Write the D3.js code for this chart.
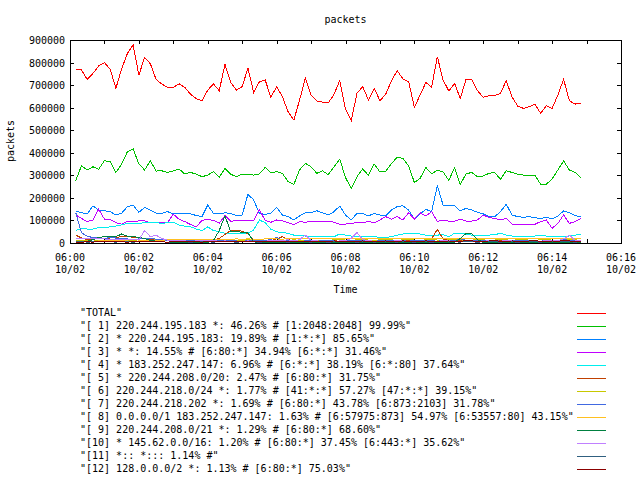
<!DOCTYPE html>
<html><head><meta charset="utf-8">
<script src="https://cdn.jsdelivr.net/npm/d3@7"></script>
<style>
body{margin:0;background:#fff;}
svg{display:block;background:#fff;}
text{font-family:"DejaVu Sans Mono",monospace;font-size:10px;fill:#000;white-space:pre;}
</style></head><body>
<svg id="c" width="640" height="480"></svg>
<script>
const chartTitle = "packets";
const yTitle = "packets";
const xTitle = "Time";
const dateLabel = "10/02";
const xDomain = ["06:00:00", "06:16:00"];
const yTicks = [0,100000,200000,300000,400000,500000,600000,700000,800000,900000];
const times = [
"06:00:10","06:00:20","06:00:30","06:00:40","06:00:50","06:01:00","06:01:10","06:01:20","06:01:30","06:01:40",
"06:01:50","06:02:00","06:02:10","06:02:20","06:02:30","06:02:40","06:02:50","06:03:00","06:03:10","06:03:20",
"06:03:30","06:03:40","06:03:50","06:04:00","06:04:10","06:04:20","06:04:30","06:04:40","06:04:50","06:05:00",
"06:05:10","06:05:20","06:05:30","06:05:40","06:05:50","06:06:00","06:06:10","06:06:20","06:06:30","06:06:40",
"06:06:50","06:07:00","06:07:10","06:07:20","06:07:30","06:07:40","06:07:50","06:08:00","06:08:10","06:08:20",
"06:08:30","06:08:40","06:08:50","06:09:00","06:09:10","06:09:20","06:09:30","06:09:40","06:09:50","06:10:00",
"06:10:10","06:10:20","06:10:30","06:10:40","06:10:50","06:11:00","06:11:10","06:11:20","06:11:30","06:11:40",
"06:11:50","06:12:00","06:12:10","06:12:20","06:12:30","06:12:40","06:12:50","06:13:00","06:13:10","06:13:20",
"06:13:30","06:13:40","06:13:50","06:14:00","06:14:10","06:14:20","06:14:30","06:14:40","06:14:50"];

// values in thousands of packets
const total = [767,767,725,752,785,800,770,686,772,840, 878,744,823,795,725,705,690,690,706,690,
 660,640,630,678,705,675,792,711,678,693, 775,668,715,723,646,693,649,582,545,634,
 730,656,630,625,621,659,721,593,542,664, 693,634,686,631,659,718,764,728,715,602,
 656,712,690,826,723,674,708,641,726,726, 675,646,653,653,664,720,649,607,597,604,
 615,575,609,597,656,726,631,616,619];
const s1 = [276,343,324,338,327,365,360,313,350,405, 417,350,324,365,319,320,313,320,328,306,
 313,305,294,301,316,291,331,305,294,305, 305,301,306,335,312,316,309,272,260,324,
 353,338,309,320,303,338,372,290,242,294, 328,300,350,315,318,352,380,375,342,268,
 287,335,307,322,315,278,334,260,306,313, 294,297,309,313,282,320,313,305,301,301,
 301,260,261,284,324,364,324,313,289];
const s2 = [142,134,129,165,146,143,139,124,132,161, 168,136,158,146,132,132,139,129,132,131,
 129,122,117,168,131,129,134,131,121,124, 216,191,131,127,131,158,124,117,102,120,
 134,134,143,134,124,139,164,124,102,131, 131,120,131,124,120,146,161,165,146,106,
 129,149,139,254,168,165,165,142,154,146, 136,129,117,117,139,172,124,117,114,117,
 112,109,114,106,120,142,134,121,117];
const s3 = [124,109,95,102,150,106,105,90,84,95, 93,98,98,90,90,90,90,128,105,95,
 82,72,100,105,100,88,122,96,100,98, 98,100,148,100,92,102,98,90,82,95,
 92,95,97,96,97,92,83,84,87,90, 90,95,90,102,117,105,117,102,134,106,
 134,120,139,95,102,97,97,106,97,97, 102,124,113,109,102,109,84,83,83,83,
 83,95,102,65,87,124,87,95,109];
const s4 = [55,65,62,62,68,68,72,75,80,87, 87,87,90,90,90,87,90,92,80,75,
 72,62,55,72,55,50,43,40,40,43, 43,58,102,90,61,50,46,43,35,35,
 31,28,28,31,28,28,40,35,31,31, 31,28,28,25,25,28,35,40,40,40,
 40,35,35,35,37,28,43,40,40,35, 35,35,35,37,43,35,31,31,31,31,
 31,35,31,31,28,28,31,35,40];
const s5 = [35,22,15,18,22,20,22,25,28,30, 25,22,20,15,12,10,10,12,10,8,
 8,10,12,12,14,20,38,55,57,52, 42,12,8,8,10,18,28,15,8,8,
 10,8,8,10,12,10,8,8,10,12, 10,8,10,12,10,8,10,12,10,8,
 10,10,18,61,18,10,8,10,12,10, 10,12,10,8,10,12,10,8,10,12,
 10,8,10,12,10,8,10,12,10];
const s6 = [10,12,9,8,11,12,10,8,9,12, 10,8,11,12,14,11,10,12,13,12,
 10,12,14,11,10,12,13,12,10,11, 14,12,10,12,13,12,10,11,14,12,
 12,13,12,10,12,14,15,13,12,14, 15,13,12,14,15,14,11,14,15,13,
 12,14,15,13,12,14,15,14,12,13, 15,14,12,13,15,14,12,14,15,13,
 12,14,15,13,12,14,15,14,12];
const s7 = [135,45,30,24,22,20,24,22,20,18, 16,18,22,20,17,14,12,11,12,10,
 9,10,12,11,9,10,13,11,9,8, 10,12,9,11,16,25,13,9,11,8,
 9,11,8,10,12,9,8,11,9,10, 12,9,8,10,11,9,12,10,8,11,
 9,12,10,8,11,13,10,18,12,9, 10,12,9,11,8,10,12,9,11,13,
 10,8,11,12,9,16,11,9,10];
const s8 = [4,5,6,8,9,10,12,11,10,9, 8,9,11,12,13,12,14,15,14,15,
 16,15,14,16,17,16,15,17,18,17, 18,17,16,18,19,18,17,19,20,18,
 19,20,21,19,20,22,21,20,22,21, 20,22,21,20,21,22,20,19,21,22,
 21,20,22,21,19,20,22,21,20,21, 22,21,20,19,21,22,20,21,22,20,
 21,19,20,22,21,20,19,21,22];
const s9 = [3,5,8,15,25,28,27,28,40,30, 28,25,20,12,8,5,4,3,3,3,
 3,3,3,3,12,55,121,50,50,48, 46,5,3,3,3,3,3,3,3,3,
 3,3,3,3,3,3,3,3,3,3, 3,3,3,3,3,3,3,3,3,3,
 3,3,3,3,3,3,3,20,42,40, 15,3,3,3,3,3,3,3,3,3,
 3,3,3,3,3,3,3,3,3];
const s10 = [20,19,18,18,20,18,16,15,16,15, 14,15,55,28,35,20,12,10,11,9,
 8,9,10,12,10,8,9,8,7,8, 9,8,7,8,10,11,12,14,9,15,
 35,12,9,8,7,8,9,10,20,46, 15,10,8,7,9,8,10,9,8,7,
 8,9,7,8,10,9,8,7,9,8, 7,8,10,9,8,12,9,8,7,8,
 9,8,10,12,9,18,35,12,9];
const s11 = [5,6,4,5,7,6,5,4,6,5, 4,5,6,8,6,5,4,5,6,5,
 4,5,6,5,4,6,7,5,4,5, 6,5,4,5,6,7,5,4,5,6,
 5,4,6,5,4,5,6,7,5,4, 5,6,4,5,6,5,4,6,5,4,
 6,5,4,5,7,6,5,4,6,5, 4,5,6,5,4,6,5,4,5,6,
 5,4,6,5,7,6,5,4,5];
const s12 = [3,4,5,4,6,5,7,6,5,4, 6,5,7,8,6,5,4,6,5,7,
 6,5,4,6,7,8,6,5,7,6, 5,6,8,7,6,5,7,8,6,5,
 7,8,6,5,7,9,8,7,6,8, 9,7,6,8,9,8,7,9,8,6,
 7,9,8,6,8,9,7,8,10,9, 8,7,9,10,8,7,9,8,7,9,
 10,8,7,9,8,10,9,8,7];

const legendLabels = [
 '"TOTAL"',
 '"[ 1] 220.244.195.183 *: 46.26% # [1:2048:2048] 99.99%"',
 '"[ 2] * 220.244.195.183: 19.89% # [1:*:*] 85.65%"',
 '"[ 3] * *: 14.55% # [6:80:*] 34.94% [6:*:*] 31.46%"',
 '"[ 4] * 183.252.247.147: 6.96% # [6:*:*] 38.19% [6:*:80] 37.64%"',
 '"[ 5] * 220.244.208.0/20: 2.47% # [6:80:*] 31.75%"',
 '"[ 6] 220.244.218.0/24 *: 1.77% # [41:*:*] 57.27% [47:*:*] 39.15%"',
 '"[ 7] 220.244.218.202 *: 1.69% # [6:80:*] 43.78% [6:873:2103] 31.78%"',
 '"[ 8] 0.0.0.0/1 183.252.247.147: 1.63% # [6:57975:873] 54.97% [6:53557:80] 43.15%"',
 '"[ 9] 220.244.208.0/21 *: 1.29% # [6:80:*] 68.60%"',
 '"[10] * 145.62.0.0/16: 1.20% # [6:80:*] 37.45% [6:443:*] 35.62%"',
 '"[11] *:: *::: 1.14% #"',
 '"[12] 128.0.0.0/2 *: 1.13% # [6:80:*] 75.03%"'
];
const seriesValues = [total, s1, s2, s3, s4, s5, s6, s7, s8, s9, s10, s11, s12];
const seriesColors = ["#ff0000","#00c000","#0080ff","#c000ff","#00eeee","#c04000","#c8c800",
  "#4169e1","#ffc020","#008040","#c080ff","#306080","#8b0000"];

const svg = d3.select("#c");
const L = 70, R = 621, T = 40, B = 243;
const parse = d3.timeParse("%m/%d %H:%M:%S");
const dates = times.map(t => parse(dateLabel + " " + t));
const x = d3.scaleTime().domain(xDomain.map(t => parse(dateLabel + " " + t))).range([L, R]);
const y = d3.scaleLinear().domain([yTicks[0], yTicks[yTicks.length-1]]).range([B, T]);

// axes with inward ticks
const minute = d3.timeMinute.every(1);
const gB = svg.append("g").attr("transform", `translate(0,${B})`)
  .call(d3.axisBottom(x).ticks(minute).tickSizeInner(-4).tickSizeOuter(0).tickFormat(() => ""));
const gT = svg.append("g").attr("transform", `translate(0,${T})`)
  .call(d3.axisTop(x).ticks(minute).tickSizeInner(-4).tickSizeOuter(0).tickFormat(() => ""));
const gL = svg.append("g").attr("transform", `translate(${L},0)`)
  .call(d3.axisLeft(y).tickValues(yTicks).tickSizeInner(-4).tickSizeOuter(0).tickPadding(5).tickFormat(d3.format("d")));
const gR = svg.append("g").attr("transform", `translate(${R},0)`)
  .call(d3.axisRight(y).tickValues(yTicks).tickSizeInner(-4).tickSizeOuter(0).tickFormat(() => ""));
[gB, gT, gL, gR].forEach(g => {
  g.select(".domain").remove();
  g.selectAll("line").attr("stroke", "#000").attr("shape-rendering", "crispEdges");
  g.selectAll("text").style("font-family", '"DejaVu Sans Mono",monospace').style("font-size", "10px").attr("fill", "#000");
});
gL.selectAll("text").attr("dy", "0.35em");

// x tick labels: even minutes, two lines
const fmtT = d3.timeFormat("%H:%M"), fmtD = d3.timeFormat("%m/%d");
const labTicks = x.ticks(d3.timeMinute.every(2));
const xl = svg.append("g");
labTicks.forEach(d => {
  xl.append("text").attr("x", x(d)).attr("y", 260.5).attr("text-anchor", "middle").text(fmtT(d));
  xl.append("text").attr("x", x(d)).attr("y", 273.3).attr("text-anchor", "middle").text(fmtD(d));
});

// border
svg.append("rect").attr("x", L + 0.5).attr("y", T + 0.5).attr("width", R - L).attr("height", B - T)
  .attr("fill", "none").attr("stroke", "#000").attr("shape-rendering", "crispEdges");

// series lines (aliased like the original bitmap plot)
const line = d3.line().x((d, i) => x(dates[i])).y(d => y(d * 1000));
const gl = svg.append("g");
seriesValues.forEach((vals, k) => {
  gl.append("path").datum(vals).attr("d", line).attr("fill", "none")
    .attr("stroke", seriesColors[k]).attr("stroke-width", 1)
    .attr("shape-rendering", "crispEdges");
});

// titles
svg.append("text").attr("x", 345.5).attr("y", 22.5).attr("text-anchor", "middle").text(chartTitle);
svg.append("text").attr("x", 345.5).attr("y", 292.5).attr("text-anchor", "middle").text(xTitle);
svg.append("text").attr("transform", "translate(13.5,141) rotate(-90)").attr("text-anchor", "middle").text(yTitle);

// legend
const lg = svg.append("g");
legendLabels.forEach((lab, i) => {
  const yy = 312.5 + 13 * i;
  lg.append("text").attr("x", 80).attr("y", yy + 3.5).text(lab);
  lg.append("line").attr("x1", 577).attr("x2", 606).attr("y1", Math.round(yy) + 0.5).attr("y2", Math.round(yy) + 0.5)
    .attr("stroke", seriesColors[i]).attr("stroke-width", 1).attr("shape-rendering", "crispEdges");
});
</script>
</body></html>
